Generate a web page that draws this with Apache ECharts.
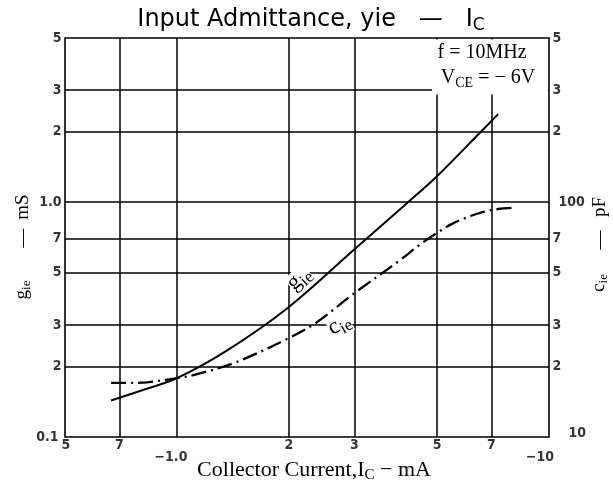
<!DOCTYPE html>
<html>
<head>
<meta charset="utf-8">
<script src="https://cdn.jsdelivr.net/npm/echarts@6/dist/echarts.min.js"></script>
<style>html,body{margin:0;padding:0;background:#fff;}#c{width:613px;height:492px;}</style>
</head>
<body>
<div id="c"></div>
<script>
// ---- data ----
const gieX = [0.665, 0.825, 1.0, 1.354, 2.0, 3.0, 4.18, 5.0, 6.57, 7.3];
const gieY = [0.143, 0.160, 0.178, 0.232, 0.358, 0.630, 1.0, 1.29, 2.0, 2.37]; // mS
const cieX = [0.665, 0.76, 0.83, 1.0, 1.146, 1.45, 2.0, 2.36, 3.0, 4.0, 4.5, 5.0, 5.5, 6.0, 6.6, 7.3, 7.96];
const cieY = [17.0, 17.0, 17.1, 17.8, 18.6, 20.9, 26.4, 30.6, 41, 57, 66, 74, 81, 86, 90.5, 93.5, 94.5]; // pF

const xTicks = [0.5, 0.7, 1, 2, 3, 5, 7, 10];
const xTickLabels = ['5', '7', '\u22121.0', '2', '3', '5', '7', '\u221210'];
const yTicks = [5, 3, 2, 1, 0.7, 0.5, 0.3, 0.2, 0.1];
const yTickLabels = ['5', '3', '2', '1.0', '7', '5', '3', '2', '0.1'];
const y2Ticks = [500, 300, 200, 100, 70, 50, 30, 20, 10];
const y2TickLabels = ['5', '3', '2', '100', '7', '5', '3', '2', '10'];
const xGrid = [0.7, 1, 2, 3, 5, 7];
const yGrid = [0.2, 0.3, 0.5, 0.7, 1, 2, 3];
// curve name positions (x in mA, y in mS)
const curveNames = ['g', 'c'];
const curveNameX = [2.14, 2.74];
const curveNameY = [0.468, 0.298];
const curveNameRot = [42, 30];

const tickFont = "'DejaVu Sans Condensed','DejaVu Sans',sans-serif";
const serifName = "'Liberation Serif','DejaVu Serif',serif";

const chart = echarts.init(document.getElementById('c'), null, {renderer: 'canvas'});

function tickLabel(pos, extra) {
  return Object.assign({show: true, position: pos, distance: 3, color: '#000',
    fontFamily: tickFont, fontWeight: 'bold', fontSize: 14}, extra || {});
}

const leftLabels = yTicks.map((v, i) => ({value: [0.5, v], label: tickLabel('left', {formatter: yTickLabels[i], offset: i === 8 ? [-3, 0] : [0, 0]})}));
const rightLabels = y2Ticks.map((v, i) => {
  let off = [0, 0];
  if (y2TickLabels[i] === '100') off = [6, 0];
  if (i === 8) off = [16, -4];
  return {value: [10, v], label: tickLabel('right', {formatter: y2TickLabels[i], offset: off})};
});
const bottomLabels = xTicks.map((v, i) => {
  let off = [0, 0];
  if (i === 0) off = [1, 0];
  if (i === 2) off = [-6, 12];
  if (i === 7) off = [-9, 12];
  return {value: [v, 0.1], label: tickLabel('bottom', {formatter: xTickLabels[i], offset: off, distance: 1})};
});

function serifRich(size, subSize, pad) {
  return {
    n: {fontSize: size, fontFamily: serifName, color: '#000', verticalAlign: 'top'},
    s: {fontSize: subSize, fontFamily: serifName, color: '#000', padding: [pad, 0, 0, 0], verticalAlign: 'top'}
  };
}
function gtext(x, y, text, size, rot, subRatio) {
  const r = subRatio || 0.68;
  return {type: 'text', x: x, y: y, rotation: rot || 0, z: 10,
    style: {text: text, fill: '#000', font: size + "px 'Liberation Serif', serif", align: 'center', verticalAlign: 'middle',
      rich: serifRich(size, Math.round(size * r), Math.round(size * 0.4))}};
}

const option = {
  animation: false,
  backgroundColor: '#fff',
  grid: {left: 65, right: 64, top: 38, height: 399, show: true, borderColor: '#000', borderWidth: 1.6, backgroundColor: 'transparent'},
  xAxis: {type: 'log', logBase: 10, min: 0.5, max: 10, axisLine: {show: false}, axisTick: {show: false}, axisLabel: {show: false}, splitLine: {show: false}},
  yAxis: [
    {type: 'log', logBase: 10, min: 0.1, max: 5, axisLine: {show: false}, axisTick: {show: false}, axisLabel: {show: false}, splitLine: {show: false}},
    {type: 'log', logBase: 10, min: 10, max: 500, axisLine: {show: false}, axisTick: {show: false}, axisLabel: {show: false}, splitLine: {show: false}}
  ],
  series: [
    {
      type: 'line', name: 'gie', yAxisIndex: 0, showSymbol: false, smooth: 0.35,
      data: gieX.map((x, i) => [x, gieY[i]]),
      lineStyle: {color: '#000', width: 2},
      z: 3,
      markLine: {
        silent: true, symbol: 'none', label: {show: false},
        lineStyle: {color: '#000', width: 1.5, type: 'solid'},
        data: xGrid.map(v => ({xAxis: v})).concat(yGrid.map(v => ({yAxis: v}))),
        z: 1
      }
    },
    {
      type: 'line', name: 'cie', yAxisIndex: 1, showSymbol: false, smooth: 0.35,
      data: cieX.map((x, i) => [x, cieY[i]]),
      lineStyle: {color: '#000', width: 2.3, type: [15, 5, 2, 5]},
      z: 3
    },
    {type: 'scatter', yAxisIndex: 0, symbolSize: 1, itemStyle: {color: 'rgba(0,0,0,0)'}, data: leftLabels, z: 5},
    {type: 'scatter', yAxisIndex: 1, symbolSize: 1, itemStyle: {color: 'rgba(0,0,0,0)'}, data: rightLabels, z: 5},
    {type: 'scatter', yAxisIndex: 0, symbolSize: 1, itemStyle: {color: 'rgba(0,0,0,0)'}, data: bottomLabels, z: 5}
  ],
  graphic: [
    {type: 'text', x: 311, y: 20, z: 10, style: {text: 'Input Admittance, yie   \u2014   I{s|C}', fill: '#000', font: "24px 'DejaVu Sans', sans-serif", align: 'center', verticalAlign: 'middle',
      rich: {s: {fontSize: 17, fontFamily: "'DejaVu Sans', sans-serif", padding: [11, 0, 0, 0], verticalAlign: 'top'}}}},
    {type: 'rect', z: 9, shape: {x: 432, y: 39.5, width: 116, height: 55}, style: {fill: '#fff'}},
    gtext(482, 53, '{n|f = 10MHz}', 20),
    gtext(488, 79, '{n|V}{s|CE}{n| = \u2212 6V}', 20),
    gtext(314, 471, '{n|Collector Current,I}{s|C}{n| \u2212 mA}', 22),
    gtext(23, 290, '{n|g}{s|ie}', 19, Math.PI / 2),
    gtext(23, 238, '{n|\u2014}', 19, Math.PI / 2),
    gtext(23, 207, '{n|mS}', 19, Math.PI / 2),
    gtext(600, 283, '{n|c}{s|ie}', 19, Math.PI / 2),
    gtext(600, 240, '{n|\u2014}', 19, Math.PI / 2),
    gtext(600, 207, '{n|pF}', 19, Math.PI / 2)
  ]
};
chart.setOption(option);

// curve names placed through the chart's own scales
const extra = curveNames.map((nm, i) => {
  const p = chart.convertToPixel({xAxisIndex: 0, yAxisIndex: 0}, [curveNameX[i], curveNameY[i]]);
  const g = gtext(p[0], p[1], '{n|' + nm + '}{s|ie}', 23, curveNameRot[i] * Math.PI / 180, 0.75);
  g.style.backgroundColor = '#fff';
  g.style.padding = [-2, 0, -2, 0];
  g.z = 2;
  return g;
});
chart.setOption({graphic: option.graphic.concat(extra)});
</script>
</body>
</html>
